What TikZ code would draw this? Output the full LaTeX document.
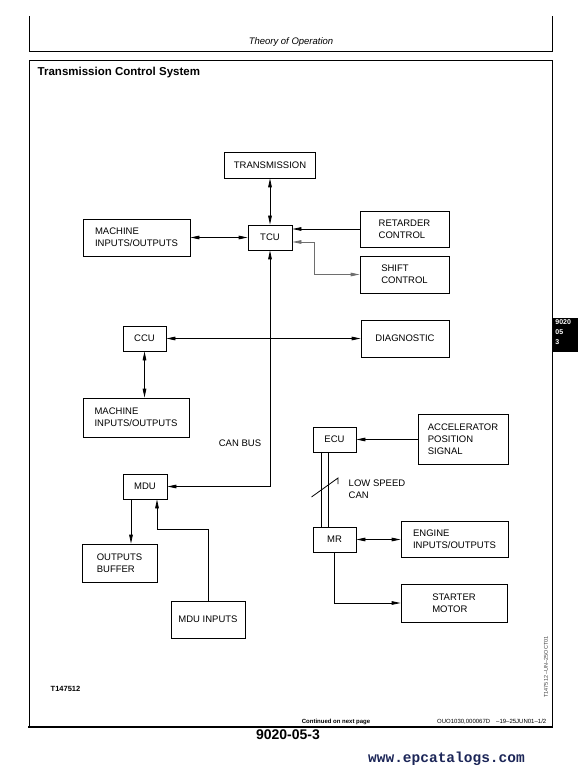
\documentclass[tikz,border=0pt]{standalone}
\usepackage{fontspec}
\setmainfont{Liberation Sans}
\setmonofont{Liberation Mono}
\usetikzlibrary{arrows.meta}
\definecolor{tcsgray}{RGB}{110,110,110}
\definecolor{tcsnavy}{RGB}{28,38,88}
\newcommand{\boxfont}{\fontsize{9.5}{12.2}\selectfont}

\begin{document}
\begin{tikzpicture}[x=1pt, y=-1pt, line width=0.8pt,
    >={Triangle[length=9pt,width=3.6pt]},
    unit/.style={draw, align=left, font=\boxfont}]
  \useasboundingbox (0,0) rectangle (578,775);
  % Page frame
  \draw (29,16) -- (29,51) -- (552,51) -- (552,16);
  \node[font=\itshape\fontsize{9.5}{11}\selectfont] (hdr) at (291,42) {Theory of Operation};
  \draw (29,727) -- (29,60) -- (552,60) -- (552,727);
  \draw[line width=2pt] (28,727) -- (553,727);
  \node[anchor=west, font=\bfseries\fontsize{11.5}{13}\selectfont] (title) at (34,73) {Transmission Control System};
  % Boxes
  \node[unit, minimum width=91, minimum height=26] (trans) at (270,165) {TRANSMISSION};
  \node[unit, minimum width=44, minimum height=25] (tcu) at (270,237.5) {TCU};
  \node[unit, minimum width=107, minimum height=37] (mioa) at (136.5,237.5) {MACHINE\\INPUTS/OUTPUTS};
  \node[unit, minimum width=89, minimum height=36] (retard) at (404.5,229) {RETARDER\\CONTROL};
  \node[unit, minimum width=89, minimum height=37] (shift) at (404.5,274.5) {SHIFT\\CONTROL};
  \node[unit, minimum width=43, minimum height=25] (ccu) at (144.5,338.5) {CCU};
  \node[unit, minimum width=88, minimum height=37] (diag) at (405,338.5) {DIAGNOSTIC};
  \node[unit, minimum width=106, minimum height=39] (miob) at (136,417.5) {MACHINE\\INPUTS/OUTPUTS};
  \node[unit, minimum width=43, minimum height=25] (ecu) at (334.5,439.5) {ECU};
  \node[unit, minimum width=90, minimum height=50] (accel) at (463,439.5) {ACCELERATOR\\POSITION\\SIGNAL};
  \node[unit, minimum width=44, minimum height=25] (mdu) at (145,486.5) {MDU};
  \node[unit, minimum width=43, minimum height=25] (mr) at (334.5,539.5) {MR};
  \node[unit, minimum width=107, minimum height=36] (engine) at (454.5,539.5) {ENGINE\\INPUTS/OUTPUTS};
  \node[unit, minimum width=75, minimum height=38] (buffer) at (119.5,563) {OUTPUTS\\BUFFER};
  \node[unit, minimum width=74, minimum height=37] (mduin) at (208,619.5) {MDU INPUTS};
  \node[unit, minimum width=106, minimum height=38] (starter) at (454,603) {STARTER\\MOTOR};
  % TCU links
  \draw[<->] (tcu) -- (trans);
  \draw[<->] (mioa) -- (tcu);
  \draw[->] (retard.west) -- (retard.west -| tcu.east);
  \draw[<->, tcsgray] ([yshift=-4.5pt]tcu.east) -- ++(22,0) |- (shift.west);
  % CAN bus
  \draw[<->] (tcu.south) |- (mdu.east);
  \node[font=\boxfont] (canbus) at (240,443) {CAN BUS};
  \draw[<->] (ccu) -- (diag);
  \draw[<->] (ccu.south) -- (ccu.south |- miob.north);
  % MDU
  \draw[->] ([xshift=-14pt]mdu.south) -- ([xshift=-14pt]mdu.south |- buffer.north);
  \draw[->] (mduin.north) -- ++(0,-71) -| ([xshift=12pt]mdu.south);
  % Engine side
  \draw[->] (accel) -- (ecu);
  \draw ([xshift=-13.5pt]ecu.south) -- ([xshift=-13.5pt]mr.north);
  \draw ([xshift=-6.5pt]ecu.south) -- ([xshift=-6.5pt]mr.north);
  \draw (311.5,497) -- (338,478) -- (338,484);
  \node[anchor=west, align=left, font=\boxfont] (lowcan) at (345,489) {LOW SPEED\\CAN};
  \draw[<->] (mr) -- (engine);
  \draw[->] (mr.south) |- (starter.west);
  % Side tab and footer
  \fill (553,318) rectangle (578,352);
  \node[anchor=north west, inner sep=0pt, align=left, text=white,
        font=\bfseries\fontsize{7}{10}\selectfont] (tab) at (555,319) {9020\\05\\3};
  \node[rotate=90, text=darkgray, font=\fontsize{5.5}{6}\selectfont] (figid) at (546,667) {T147512 –UN–25OCT01};
  \node[anchor=west, font=\bfseries\fontsize{7.5}{9}\selectfont] (fig) at (47,689) {T147512};
  \node[font=\bfseries\fontsize{6}{7}\selectfont] (cont) at (336,722) {Continued on next page};
  \node[anchor=east, font=\fontsize{6}{7}\selectfont] (docid) at (550,722) {OUO1030,000067D\quad –19–25JUN01–1/2};
  \node[font=\bfseries\fontsize{14}{16}\selectfont] (page) at (288,735) {9020-05-3};
  \node[text=tcsnavy, font=\ttfamily\bfseries\fontsize{14.5}{16}\selectfont] (site) at (446.5,759) {www.epcatalogs.com};
\end{tikzpicture}
\end{document}
